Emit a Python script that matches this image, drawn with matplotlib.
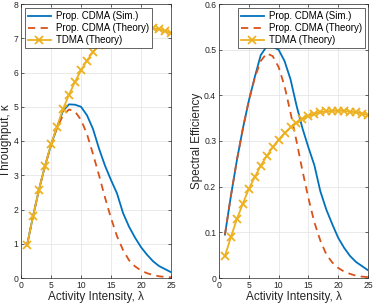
import matplotlib
matplotlib.use("Agg")
import matplotlib.pyplot as plt
import numpy as np

# activity intensity lambda
lam = np.arange(1, 26)

# throughput (kappa)
cdma_sim = [0.95, 1.80, 2.58, 3.27, 3.88, 4.40, 4.88, 5.07, 5.06, 5.00, 4.75, 4.35,
            3.78, 3.28, 2.86, 2.47, 1.90, 1.50, 1.18, 0.90, 0.68, 0.49, 0.35, 0.26, 0.17]
cdma_theory = [0.95, 1.80, 2.58, 3.27, 3.88, 4.38, 4.75, 4.92, 4.86, 4.62, 4.20, 3.62,
               3.00, 2.35, 1.75, 1.22, 0.82, 0.52, 0.34, 0.22, 0.14, 0.09, 0.05, 0.03, 0.02]
tdma_theory = [0.95, 1.80, 2.58, 3.27, 3.90, 4.42, 4.93, 5.35, 5.73, 6.06, 6.35, 6.60,
               6.80, 6.97, 7.10, 7.20, 7.27, 7.31, 7.33, 7.33, 7.32, 7.29, 7.26, 7.21, 7.15]

# spectral efficiency
cdma_sim_se = [0.095, 0.180, 0.258, 0.327, 0.388, 0.440, 0.488, 0.507, 0.506, 0.500,
               0.475, 0.435, 0.378, 0.328, 0.286, 0.247, 0.190, 0.150, 0.118, 0.088,
               0.066, 0.048, 0.035, 0.026, 0.017]
cdma_theory_se = [0.095, 0.180, 0.258, 0.327, 0.388, 0.438, 0.475, 0.492, 0.486, 0.462,
                  0.420, 0.362, 0.300, 0.235, 0.175, 0.122, 0.082, 0.052, 0.034, 0.022,
                  0.014, 0.009, 0.005, 0.003, 0.002]
tdma_theory_se = [0.048, 0.090, 0.129, 0.163, 0.195, 0.221, 0.246, 0.267, 0.286, 0.303,
                  0.317, 0.330, 0.340, 0.348, 0.355, 0.360, 0.363, 0.365, 0.366, 0.366,
                  0.366, 0.364, 0.363, 0.360, 0.357]

labels = ["Prop. CDMA (Sim.)", "Prop. CDMA (Theory)", "TDMA (Theory)"]
blue, orange, yellow = "#0072BD", "#D95319", "#EDB120"

plt.rcParams["font.family"] = ["Liberation Sans", "DejaVu Sans"]

fig = plt.figure(figsize=(3.74, 3.07), dpi=100)
ax1 = fig.add_axes([21 / 374, 29 / 307, 150 / 374, 274 / 307])
ax2 = fig.add_axes([219 / 374, 29 / 307, 149 / 374, 274 / 307])


def style(ax, ylim, yticks, ylabel):
    ax.set_xlim(0, 25)
    ax.set_ylim(*ylim)
    ax.set_xticks([0, 5, 10, 15, 20, 25])
    ax.set_yticks(yticks)
    ax.grid(True, color="#e6e6e6", linewidth=0.6)
    ax.set_axisbelow(True)
    for s in ax.spines.values():
        s.set_color("#262626")
        s.set_linewidth(0.5)
    ax.tick_params(direction="in", length=2.5, width=0.5, labelsize=6.2,
                   colors="#262626", top=True, right=True, pad=2)
    ax.set_xlabel("Activity Intensity, λ", fontsize=8.5, color="#262626", labelpad=1)
    ax.set_ylabel(ylabel, fontsize=8.5, color="#262626", labelpad=1)


ax1.plot(lam, cdma_sim, color=blue, lw=1.3, label=labels[0])
ax1.plot(lam, cdma_theory, color=orange, lw=1.3, ls=(0, (4, 3)), label=labels[1])
ax1.plot(lam, tdma_theory, color=yellow, lw=1.3, marker="x", ms=6, mew=1.3, label=labels[2])
style(ax1, (0, 8), range(0, 9), "Throughput, κ")

ax2.plot(lam, cdma_sim_se, color=blue, lw=1.3, label=labels[0])
ax2.plot(lam, cdma_theory_se, color=orange, lw=1.3, ls=(0, (4, 3)), label=labels[1])
ax2.plot(lam, tdma_theory_se, color=yellow, lw=1.3, marker="x", ms=6, mew=1.3, label=labels[2])
style(ax2, (0, 0.6), [0, 0.1, 0.2, 0.3, 0.4, 0.5, 0.6], "Spectral Efficiency")
ax2.set_yticklabels(["0", "0.1", "0.2", "0.3", "0.4", "0.5", "0.6"])

for ax, anchor in ((ax1, (0.873, 0.985)), (ax2, (0.98, 0.985))):
    leg = ax.legend(loc="upper right", bbox_to_anchor=anchor, fontsize=7, frameon=True,
                    fancybox=False, borderpad=0.3, labelspacing=0.2, handlelength=2.4,
                    handletextpad=0.5, borderaxespad=0.0)
    leg.get_frame().set_edgecolor("#262626")
    leg.get_frame().set_linewidth(0.5)
    leg.get_frame().set_alpha(1)

fig.savefig("out.png", dpi=100)
